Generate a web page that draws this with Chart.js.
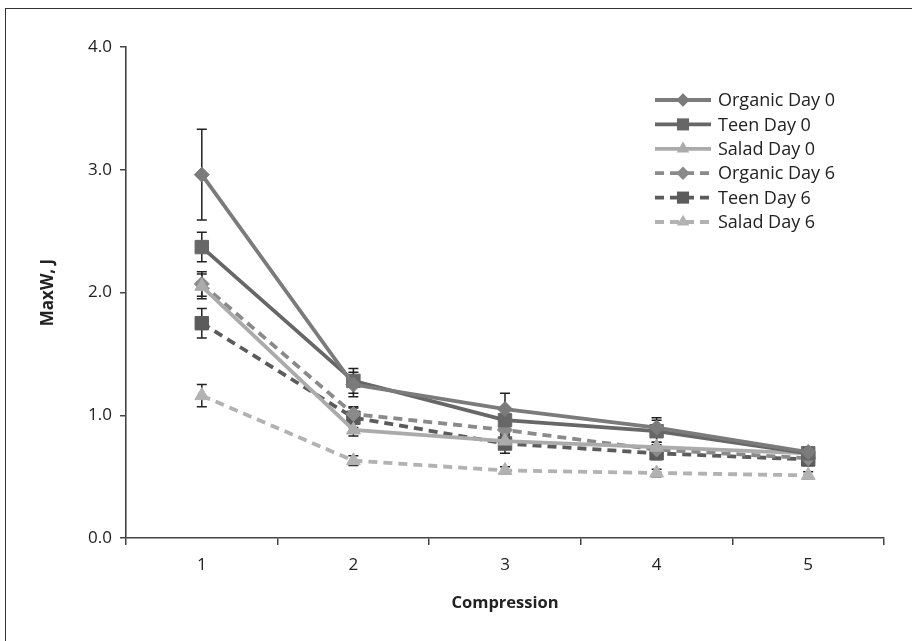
<!DOCTYPE html>
<html>
<head>
    <title>MaxW by compression</title>
    <style>
        html, body {
            margin: 0;
            padding: 0;
            background: #fff;
        }
        .frame {
            position: absolute;
            left: 5px;
            top: 8px;
            width: 907px;
            height: 633px;
            border-left: 1px solid #333;
            border-top: 1px solid #333;
        }
        .chart-box {
            position: absolute;
            left: 0;
            top: 0;
            width: 912px;
            height: 641px;
        }
    </style>
    <script src="https://cdn.jsdelivr.net/npm/chart.js"></script>
</head>
<body>
    <div class="frame"></div>
    <div class="chart-box">
        <canvas id="chart" width="912" height="641"></canvas>
    </div>

    <script>
        // Data
        const compression = ['1', '2', '3', '4', '5'];

        const organicDay0 = [2.96, 1.25, 1.05, 0.90, 0.70];
        const teenDay0    = [2.37, 1.28, 0.96, 0.87, 0.69];
        const saladDay0   = [2.05, 0.88, 0.79, 0.74, 0.69];
        const organicDay6 = [2.07, 1.01, 0.88, 0.72, 0.65];
        const teenDay6    = [1.75, 0.98, 0.77, 0.69, 0.64];
        const saladDay6   = [1.16, 0.63, 0.55, 0.53, 0.51];

        // Error bar half-widths
        const organicDay0Err = [0.37, 0.10, 0.13, 0.08, 0.04];
        const teenDay0Err    = [0.12, 0.10, 0.08, 0.09, 0.05];
        const saladDay0Err   = [0.10, 0.05, 0.05, 0.04, 0.03];
        const organicDay6Err = [0.10, 0.06, 0.06, 0.04, 0.04];
        const teenDay6Err    = [0.12, 0.08, 0.08, 0.05, 0.05];
        const saladDay6Err   = [0.09, 0.04, 0.03, 0.03, 0.03];

        const yTicks = [0, 1, 2, 3, 4];

        function series(label, values, err, color, style, dashed, radius) {
            return {
                label: label,
                data: values,
                err: err,
                borderColor: color,
                backgroundColor: color,
                borderWidth: 3.8,
                borderDash: dashed ? [9, 6] : [],
                pointStyle: style,
                pointRadius: radius,
                pointBackgroundColor: color,
                pointBorderColor: color,
                pointBorderWidth: 1,
                tension: 0,
                fill: false
            };
        }

        const datasets = [
            series('Organic Day 0', organicDay0, organicDay0Err, '#7b7b7b', 'rectRot', false, 7.5),
            series('Teen Day 0', teenDay0, teenDay0Err, '#676767', 'rect', false, 9.5),
            series('Salad Day 0', saladDay0, saladDay0Err, '#ababab', 'triangle', false, 8),
            series('Organic Day 6', organicDay6, organicDay6Err, '#8a8a8a', 'rectRot', true, 7.5),
            series('Teen Day 6', teenDay6, teenDay6Err, '#5b5b5b', 'rect', true, 9.5),
            series('Salad Day 6', saladDay6, saladDay6Err, '#b2b2b2', 'triangle', true, 8)
        ];

        // Vertical error bars with caps, drawn from the scales
        const errorBars = {
            id: 'errorBars',
            beforeDatasetsDraw(chart) {
                const ctx = chart.ctx;
                const x = chart.scales.x;
                const y = chart.scales.y;
                ctx.save();
                ctx.strokeStyle = '#222';
                ctx.lineWidth = 1.5;
                chart.data.datasets.forEach(ds => {
                    ds.data.forEach((v, i) => {
                        const px = x.getPixelForValue(i);
                        const top = y.getPixelForValue(v + ds.err[i]);
                        const bot = y.getPixelForValue(v - ds.err[i]);
                        ctx.beginPath();
                        ctx.moveTo(px, top);
                        ctx.lineTo(px, bot);
                        ctx.moveTo(px - 5, top);
                        ctx.lineTo(px + 5, top);
                        ctx.moveTo(px - 5, bot);
                        ctx.lineTo(px + 5, bot);
                        ctx.stroke();
                    });
                });
                ctx.restore();
            }
        };

        function drawMarker(ctx, style, cx, cy, r) {
            ctx.beginPath();
            if (style === 'rectRot') {
                ctx.moveTo(cx - r, cy);
                ctx.lineTo(cx, cy - r);
                ctx.lineTo(cx + r, cy);
                ctx.lineTo(cx, cy + r);
            } else if (style === 'rect') {
                const s = Math.SQRT1_2 * r;
                ctx.rect(cx - s, cy - s, 2 * s, 2 * s);
            } else {
                ctx.moveTo(cx, cy - r);
                ctx.lineTo(cx + r * Math.sin(Math.PI / 3), cy + r / 2);
                ctx.lineTo(cx - r * Math.sin(Math.PI / 3), cy + r / 2);
            }
            ctx.closePath();
            ctx.fill();
        }

        // Legend inside the plot, top right
        const sideLegend = {
            id: 'sideLegend',
            afterDraw(chart) {
                const ctx = chart.ctx;
                const x0 = 655, x1 = 711, textX = 718;
                let rowY = 100;
                ctx.save();
                chart.data.datasets.forEach(ds => {
                    ctx.strokeStyle = ds.borderColor;
                    ctx.fillStyle = ds.borderColor;
                    ctx.lineWidth = ds.borderWidth;
                    ctx.setLineDash(ds.borderDash);
                    ctx.beginPath();
                    ctx.moveTo(x0, rowY);
                    ctx.lineTo(x1, rowY);
                    ctx.stroke();
                    ctx.setLineDash([]);
                    drawMarker(ctx, ds.pointStyle, (x0 + x1) / 2, rowY, ds.pointRadius * 0.9);
                    ctx.fillStyle = '#222';
                    ctx.font = '18px "Open Sans"';
                    ctx.textBaseline = 'middle';
                    ctx.fillText(ds.label, textX, rowY + 1);
                    rowY += 24.4;
                });
                ctx.restore();
            }
        };

        new Chart(document.getElementById('chart'), {
            type: 'line',
            data: {
                labels: compression,
                datasets: datasets
            },
            options: {
                responsive: false,
                animation: false,
                layout: {
                    padding: { left: 38, top: 47, right: 28, bottom: 24 }
                },
                plugins: {
                    legend: { display: false },
                    tooltip: { enabled: false }
                },
                scales: {
                    x: {
                        offset: true,
                        grid: {
                            offset: true,
                            drawOnChartArea: false,
                            drawTicks: true,
                            tickLength: 7,
                            color: '#444',
                            lineWidth: 1.5
                        },
                        border: { display: true, color: '#444', width: 1.6 },
                        ticks: {
                            color: '#222',
                            padding: 10,
                            font: { family: 'Open Sans', size: 17 }
                        },
                        title: {
                            display: true,
                            text: 'Compression',
                            color: '#222',
                            padding: { top: 4, bottom: 4 },
                            font: { family: 'Open Sans', size: 16.5, weight: 'bold' }
                        },
                        afterFit(scale) { scale.height = 79; }
                    },
                    y: {
                        min: 0,
                        max: 4,
                        afterBuildTicks(scale) {
                            scale.ticks = yTicks.map(v => ({ value: v }));
                        },
                        grid: {
                            drawOnChartArea: false,
                            drawTicks: true,
                            tickLength: 6,
                            color: '#444',
                            lineWidth: 1.5
                        },
                        border: { display: true, color: '#444', width: 1.6 },
                        ticks: {
                            color: '#222',
                            padding: 8,
                            font: { family: 'Open Sans', size: 17 },
                            callback: v => Number(v).toFixed(1)
                        },
                        title: {
                            display: true,
                            text: 'MaxW, J',
                            color: '#222',
                            padding: 0,
                            font: { family: 'Open Sans', size: 17, weight: 'bold' }
                        },
                        afterFit(scale) { scale.width = 88; }
                    }
                }
            },
            plugins: [errorBars, sideLegend]
        });
    </script>
</body>
</html>
